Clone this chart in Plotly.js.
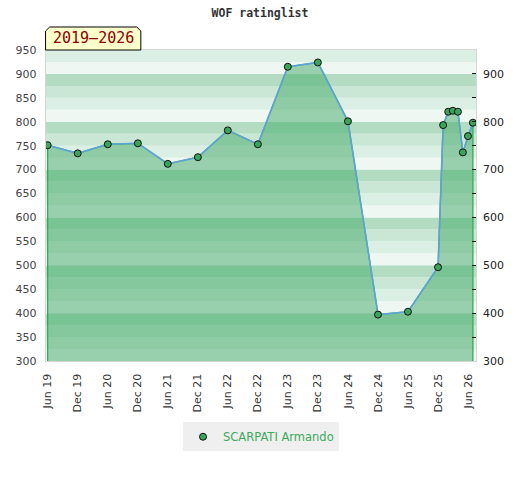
<!DOCTYPE html>
<html>
<head>
<meta charset="utf-8">
<script src="https://cdn.plot.ly/plotly-3.0.1.min.js"></script>
<style>html,body{margin:0;padding:0;background:#fff;}#chart{width:520px;height:480px;}</style>
</head>
<body>
<div id="chart"></div>
<script>
var dates = ["2019-06-01","2019-12-01","2020-06-01","2020-12-01","2021-06-01","2021-12-01",
  "2022-06-01","2022-12-01","2023-06-01","2023-12-01","2024-06-01","2024-12-01","2025-06-01",
  "2025-12-01","2026-01-01","2026-02-01","2026-03-01","2026-04-01","2026-05-01","2026-06-01","2026-07-01"];
var ratings = [751,734,753,755,712,726,782,753,915,924,801,397,403,496,793,821,823,821,736,770,798];
var playerName = "SCARPATI Armando";
var chartTitle = "WOF ratinglist";
var periodLabel = "2019\u20132026";
var yMin = 300, yMax = 950;

var bandColors = ["#eef7f2", "#dcefe4", "#c9e7d4", "#b3dcc3"];
var shapes = [];
for (var v = yMin; v < yMax; v += 25) {
  shapes.push({type:"rect", xref:"paper", x0:0, x1:1, yref:"y", y0:v, y1:v+25,
    fillcolor: bandColors[(v % 100) / 25], line:{width:0}, layer:"below"});
}
shapes.push({type:"path", xref:"paper", yref:"paper",
  path:"M -0.001,1 L -0.001,1.061 L 0.0085,1.074 L 0.211,1.074 L 0.2205,1.061 L 0.2205,1 Z",
  fillcolor:"#ffffcc", line:{color:"#000", width:1}, layer:"above"});

var polyX = [dates[0]].concat(dates, [dates[dates.length-1]]);
var polyY = [0].concat(ratings, [0]);

var traces = [
  {x: polyX, y: polyY, type:"scatter", mode:"lines", fill:"toself",
   fillcolor:"rgba(66,170,104,0.5)", line:{color:"#3aa85a", width:1.3},
   hoverinfo:"skip", showlegend:false},
  {x: dates, y: ratings, type:"scatter", mode:"lines",
   line:{color:"#5ea3d8", width:1.6}, showlegend:false},
  {x: dates, y: ratings, type:"scatter", mode:"markers", name: playerName,
   marker:{color:"#3aa35c", size:7, line:{color:"#111", width:1}}, showlegend:true},
  {x: dates, y: ratings, type:"scatter", mode:"none", yaxis:"y2", showlegend:false, hoverinfo:"skip"}
];

var layout = {
  width:520, height:480,
  margin:{l:45.7, r:44.3, t:50, b:119.2, pad:0},
  paper_bgcolor:"#fff", plot_bgcolor:"#fff",
  title:{text: chartTitle, x:0.5, xanchor:"center", y:1-13/480, yanchor:"middle", yref:"container",
    font:{family:"DejaVu Sans Mono", size:11.5, color:"#333", weight:"bold"}},
  xaxis:{type:"date", range:["2019-05-22","2026-07-20"], tick0:"2019-06-01", dtick:"M6",
    tickformat:"%b %y", tickangle:-90, ticks:"", showgrid:false, zeroline:false,
    showline:true, mirror:true, linecolor:"#d6d6d6", linewidth:1.3, ticklabelstandoff:7,
    tickfont:{family:"DejaVu Sans", size:11, color:"#333"}},
  yaxis:{range:[yMin,yMax], dtick:50, tick0:300, showgrid:false, zeroline:false, ticks:"",
    showline:true, mirror:true, linecolor:"#d6d6d6", linewidth:1.3, ticklabelstandoff:6,
    tickfont:{family:"DejaVu Sans", size:11, color:"#444"}},
  yaxis2:{range:[yMin,yMax], overlaying:"y", side:"right", dtick:100, tick0:300,
    showgrid:false, zeroline:false, showline:false, ticks:"inside", ticklen:4, tickcolor:"#111",
    minor:{dtick:50, tick0:300, ticks:"inside", ticklen:4, tickcolor:"#111", showgrid:false},
    ticklabelstandoff:6,
    tickfont:{family:"DejaVu Sans", size:11, color:"#222"}},
  showlegend:true,
  legend:{orientation:"h", x:0.5, xanchor:"center", y:(360.8-436.5)/310.8, yanchor:"middle",
    bgcolor:"#efefef", font:{family:"DejaVu Sans", size:11.5, color:"#3caa5c"}},
  shapes: shapes,
  annotations:[{xref:"paper", yref:"paper", x:0.11, y:1.037, xanchor:"center", yanchor:"middle",
    text: periodLabel, showarrow:false,
    font:{family:"DejaVu Sans Mono", size:15, color:"#8b0000"}}]
};

Plotly.newPlot("chart", traces, layout, {displayModeBar:false, staticPlot:true});
</script>
</body>
</html>
